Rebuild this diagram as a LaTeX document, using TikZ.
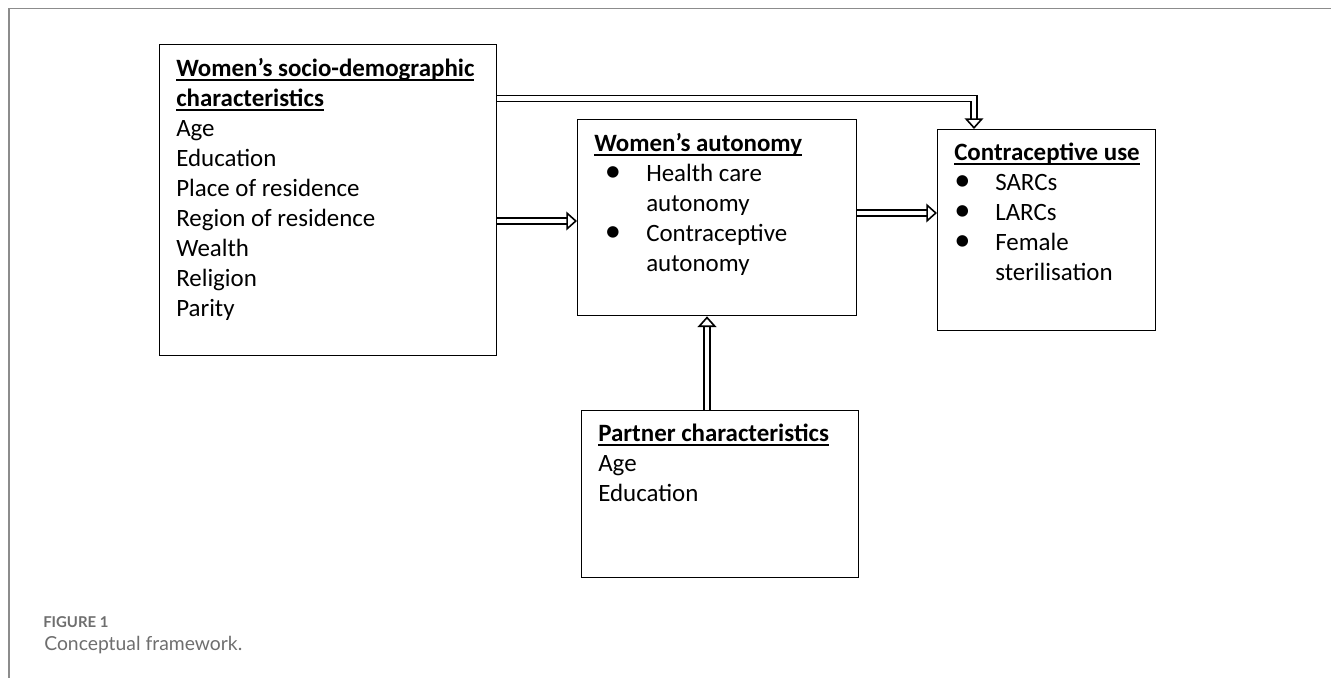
\documentclass[tikz,border=0pt]{standalone}
\usepackage{fontspec}
\setmainfont{Carlito}
\newfontfamily\capfont{Lato}
\usetikzlibrary{arrows.meta}

\definecolor{framegray}{RGB}{140,140,140}
\definecolor{capgray}{RGB}{110,110,110}

% underlined bold heading inside a box
\newcommand\boxtitle[1]{\setbox0\hbox{\bfseries #1}\rlap{\vrule height -2.0pt depth 3.1pt width \wd0}\box0}
% bullet with its own indent, then the text indent
\newcommand\bull[2]{\makebox[#2][l]{\hspace*{#1}\scalebox{1.3}{\textbullet}}}

\begin{document}
\begin{tikzpicture}[x=0.75pt,y=-0.75pt,
    box/.style={draw, line width=1pt, rectangle, anchor=north west, inner sep=0pt},
    txt/.style={anchor=north west, align=left, inner sep=0pt, font=\fontsize{18.7pt}{22.5pt}\selectfont},
    dblarrow/.style={double, double distance=3.3pt, line width=1.2pt, -{Triangle[open, length=8pt, width=14pt]}}]
        \useasboundingbox (0,0) rectangle (1331,678);
        \draw [framegray, line width=1.4pt] (1331,8.5) -- (9,8.5) -- (9,678);

        \node (socio) at (159,44) [box, minimum width=252.75pt, minimum height=233.25pt] {};
        \node (auto) at (577,119) [box, minimum width=209.25pt, minimum height=147pt] {};
        \node (contra) at (937,129) [box, minimum width=163.5pt, minimum height=150.75pt] {};
        \node (partner) at (581,410) [box, minimum width=207.75pt, minimum height=125.25pt] {};

        \node (socio-txt) at (176,58) [txt] {\boxtitle{Women’s socio-demographic}\\ \boxtitle{characteristics}\\ Age\\ Education\\ Place of residence\\ Region of residence\\ Wealth\\ Religion\\ Parity};
        \node (auto-txt) at (594,133) [txt] {\boxtitle{Women’s autonomy}\\ \bull{8pt}{39pt}Health care\\ \hspace*{39pt}autonomy\\ \bull{8pt}{39pt}Contraceptive\\ \hspace*{39pt}autonomy};
        \node (contra-txt) at (954,143) [txt] {\boxtitle{Contraceptive use}\\ \bull{0pt}{30.75pt}SARCs\\ \bull{0pt}{30.75pt}LARCs\\ \bull{0pt}{30.75pt}Female\\ \hspace*{30.75pt}sterilisation};
        \node (partner-txt) at (598,424) [txt] {\boxtitle{Partner characteristics}\\ Age\\ Education};

        \coordinate (topbend) at (974,98.5);
        \coordinate (midrow) at (0,221);
        \coordinate (rightrow) at (0,213);
        \coordinate (upcol) at (707,0);
        \draw [dblarrow] (socio.east |- topbend) -- (topbend) -- (contra.north -| topbend);
        \draw [dblarrow] (socio.east |- midrow) -- (auto.west |- midrow);
        \draw [dblarrow] (auto.east |- rightrow) -- (contra.west |- rightrow);
        \draw [dblarrow] (partner.north -| upcol) -- (auto.south -| upcol);

        \node (figno) at (43,627) [anchor=base west, inner sep=0pt, text=capgray, font=\capfont\bfseries\fontsize{11.2pt}{13pt}\selectfont] {FIGURE 1};
        \node (figcap) at (44,650) [anchor=base west, inner sep=0pt, text=capgray, font=\capfont\fontsize{14.5pt}{17pt}\selectfont] {Conceptual framework.};
    \end{tikzpicture}
\end{document}
